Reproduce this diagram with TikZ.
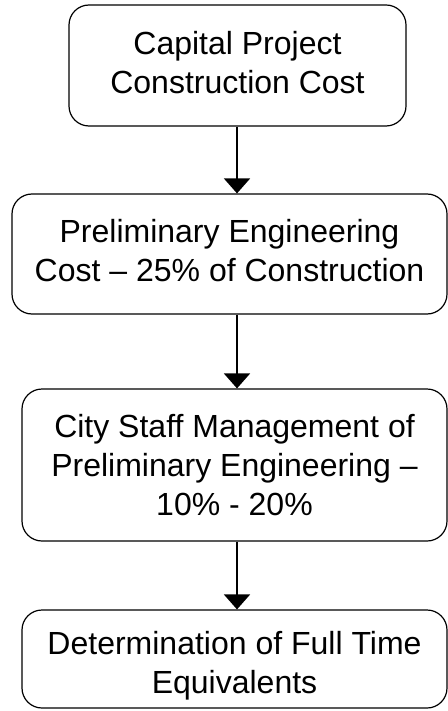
\documentclass[tikz,border=0pt]{standalone}
\usepackage{fontspec}
\setmainfont{Liberation Sans}
\usetikzlibrary{arrows.meta,positioning}
\tikzset{
  stagebox/.style={
    draw,rounded corners=10pt,align=center,inner sep=0pt,
    line width=0.6pt,font=\fontsize{16}{19.5}\selectfont
  },
  flowarrow/.style={-{Triangle[length=7.5pt,width=13pt]},line width=1pt}
}

\begin{document}
\begin{tikzpicture}[x=0.5pt,y=-0.5pt]
  \useasboundingbox (0,0) rectangle (448,711);
  % cost chain, top to bottom
  \node[stagebox,minimum width=168.5pt,minimum height=60.5pt,text depth=3pt] (capital) at (237.5,65.5)
    {Capital Project\\Construction Cost};
  \node[stagebox,minimum width=217.5pt,minimum height=60pt,text depth=4pt] (prelim) at (229.5,254)
    {Preliminary Engineering\\Cost -- 25\% of Construction};
  \node[stagebox,minimum width=212.5pt,minimum height=76pt] (staff) at (234.5,465)
    {City Staff Management of\\Preliminary Engineering --\\10\% - 20\%};
  \node[stagebox,minimum width=212.5pt,minimum height=49pt,text height=38pt] (fte) at (234.5,659)
    {Determination of Full Time\\Equivalents};
  % arrows run down one vertical line
  \coordinate (spine) at (237,0);
  \draw[flowarrow] (spine |- capital.south) -- (spine |- prelim.north);
  \draw[flowarrow] (spine |- prelim.south) -- (spine |- staff.north);
  \draw[flowarrow] (spine |- staff.south) -- (spine |- fte.north);
\end{tikzpicture}
\end{document}
